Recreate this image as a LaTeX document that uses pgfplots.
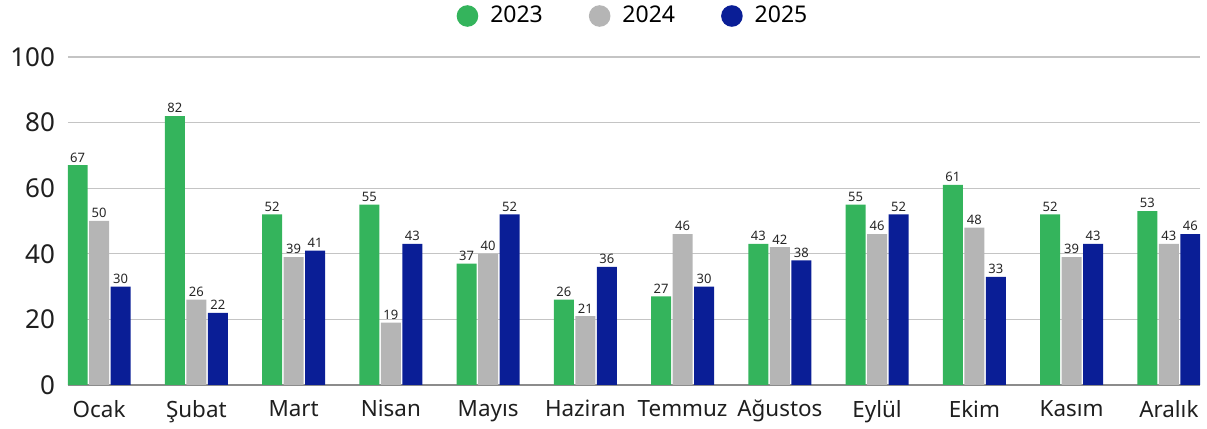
\documentclass[border=0pt]{standalone}
\usepackage{fontspec}
\setmainfont{Noto Sans}
\usepackage{pgfplots}
\pgfplotsset{compat=1.18}
\definecolor{cgreen}{HTML}{34B45C}
\definecolor{cgray}{HTML}{B5B5B5}
\definecolor{cnavy}{HTML}{0A1E96}
\definecolor{cgrid}{HTML}{C4C4C4}
\begin{document}
\begin{tikzpicture}
\begin{axis}[
  at={(0,0)}, anchor=south west,
  scale only axis, width=566pt, height=164pt,
  ybar=0.75pt, bar width=10pt,
  xmin=-0.32, xmax=11.32, ymin=0, ymax=100,
  ytick={0,20,...,100},
  xtick=data,
  xticklabels={Ocak,Şubat,Mart,Nisan,Mayıs,Haziran,Temmuz,Ağustos,Eylül,Ekim,Kasım,Aralık},
  /pgf/number format/assume math mode=true,
  tick label style={font=\fontsize{11.2}{13}\selectfont, text=black!88},
  y tick label style={font=\fontsize{13}{15}\selectfont, xshift=-3pt},
  x tick label style={yshift=-4pt},
  major tick length=0pt,
  ymajorgrids, grid style={cgrid, line width=0.6pt},
  axis x line*=bottom, axis y line*=left,
  y axis line style={draw=none},
  x axis line style={draw=black!45, line width=0.6pt},
  nodes near coords,
  every node near coord/.append style={font=\fontsize{6.5}{7}\selectfont, text=black!85, yshift=-2pt},
  legend style={at={(0.5,1)}, anchor=center, yshift=20.5pt, draw=none, fill=none,
    legend columns=3, font=\fontsize{11.5}{13}\selectfont,
    /tikz/every odd column/.append style={column sep=4pt},
    /tikz/every even column/.append style={column sep=21pt}},
  legend image code/.code={\fill[#1] (0.2cm,0cm) circle (5.4pt);},
]
\addplot[fill=cgreen, draw=none] coordinates {(0,67)(1,82)(2,52)(3,55)(4,37)(5,26)(6,27)(7,43)(8,55)(9,61)(10,52)(11,53)};
\addplot[fill=cgray, draw=none] coordinates {(0,50)(1,26)(2,39)(3,19)(4,40)(5,21)(6,46)(7,42)(8,46)(9,48)(10,39)(11,43)};
\addplot[fill=cnavy, draw=none] coordinates {(0,30)(1,22)(2,41)(3,43)(4,52)(5,36)(6,30)(7,38)(8,52)(9,33)(10,43)(11,46)};
\legend{2023,2024,2025}
\end{axis}
\pgfresetboundingbox
\useasboundingbox (-34pt,-22pt) rectangle (569.5pt,192.5pt);
\end{tikzpicture}
\end{document}
